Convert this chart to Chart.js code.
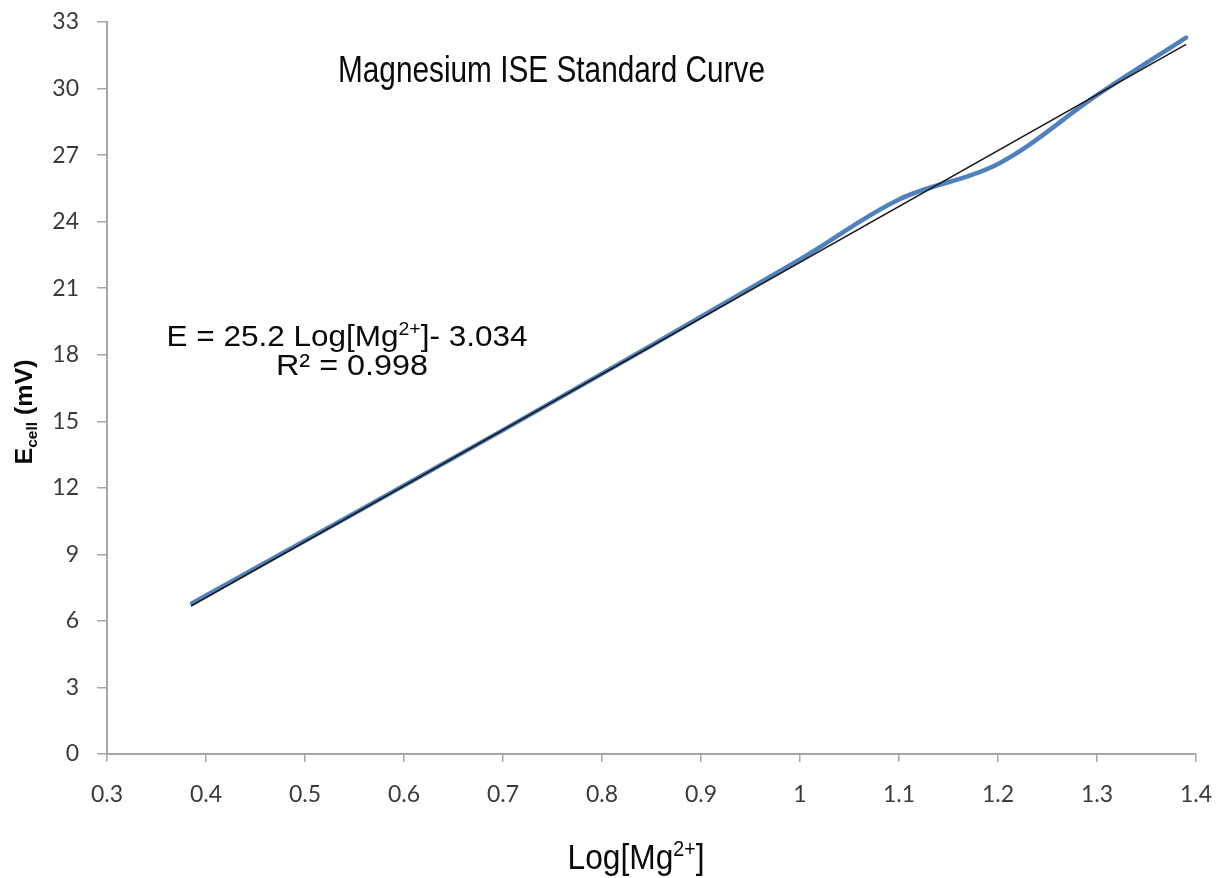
<!DOCTYPE html>
<html>
<head>
<meta charset="utf-8">
<script src="https://cdn.jsdelivr.net/npm/chart.js@4.4.0/dist/chart.umd.min.js"></script>
<style>
  html, body { margin: 0; padding: 0; background: #ffffff; }
  #wrap { width: 1231px; height: 878px; }
</style>
</head>
<body>
<div id="wrap"><canvas id="c" width="1231" height="878"></canvas></div>
<script>
// ---- data ----
const measuredLogMg = [0.386, 0.70, 1.00, 1.10, 1.20, 1.30, 1.39];
const measuredEcell = [6.80, 14.6, 22.3, 25.0, 26.6, 29.7, 32.3];
const trendLogMg = [0.385, 1.39];
const trendEcell = [6.67, 31.99];
const xTickValues = [0.3, 0.4, 0.5, 0.6, 0.7, 0.8, 0.9, 1.0, 1.1, 1.2, 1.3, 1.4];
const yTickValues = [0, 3, 6, 9, 12, 15, 18, 21, 24, 27, 30, 33];
const chartTitle = 'Magnesium ISE Standard Curve';
const equationParts = [['E = 25.2 Log[Mg', 'n'], ['2+', 'sup'], [']- 3.034', 'n']];
const r2Text = 'R\u00B2 = 0.998';
const xTitleParts = [['Log[Mg', 'n'], ['2+', 'sup'], [']', 'n']];
const yTitleParts = [['E', 'n'], ['cell', 'sub'], [' (mV)', 'n']];

// ---- text layout (canvas pixel positions) ----
const textLayout = {
  title:  { x: 338, y: 82, size: 37, width: 427, align: 'left', weight: 'normal' },
  eq:     { x: 347, y: 346, size: 30, width: 361, align: 'center', weight: 'normal' },
  r2:     { x: 352, y: 375, size: 30, width: 152, align: 'center', weight: 'normal' },
  xTitle: { x: 636, y: 869, size: 35, width: 137, align: 'center', weight: 'normal' },
  yTitle: { x: 32, y: 412, size: 24, width: 105, align: 'center', weight: 'bold' }
};
const textFamily = '"Liberation Sans", Arial, sans-serif';

function drawParts(ctx, parts, cfg) {
  const fontFor = (kind) => {
    const s = kind === 'n' ? cfg.size : cfg.size * 0.62;
    return cfg.weight + ' ' + s + 'px ' + textFamily;
  };
  let total = 0;
  const widths = parts.map(([t, k]) => { ctx.font = fontFor(k); const w = ctx.measureText(t).width; total += w; return w; });
  const sx = cfg.width ? cfg.width / total : 1;
  ctx.save();
  ctx.translate(cfg.x, cfg.y);
  if (cfg.rotate) ctx.rotate(cfg.rotate);
  ctx.scale(sx, 1);
  let x = cfg.align === 'center' ? -total / 2 : 0;
  ctx.fillStyle = '#0a0a0a';
  ctx.textBaseline = 'alphabetic';
  ctx.textAlign = 'left';
  parts.forEach(([t, k], i) => {
    ctx.font = fontFor(k);
    let dy = 0;
    if (k === 'sup') dy = -cfg.size * 0.36;
    if (k === 'sub') dy = cfg.size * 0.2;
    ctx.fillText(t, x, dy);
    x += widths[i];
  });
  ctx.restore();
}

const textPlugin = {
  id: 'texts',
  afterDraw(chart) {
    const ctx = chart.ctx;
    drawParts(ctx, [[chartTitle, 'n']], textLayout.title);
    drawParts(ctx, equationParts, textLayout.eq);
    drawParts(ctx, [[r2Text, 'n']], textLayout.r2);
    drawParts(ctx, xTitleParts, textLayout.xTitle);
    const yc = Object.assign({}, textLayout.yTitle, { rotate: -Math.PI / 2 });
    drawParts(ctx, yTitleParts, yc);
  }
};

const axisColor = '#a6a6a6';
const tickFont = { family: 'Lato, "Open Sans", sans-serif', size: 23 };

new Chart(document.getElementById('c'), {
  type: 'scatter',
  data: {
    datasets: [
      {
        label: 'Linear trend',
        data: trendLogMg.map((x, i) => ({ x: x, y: trendEcell[i] })),
        showLine: true,
        borderColor: '#1a1a1a',
        borderWidth: 1.6,
        pointRadius: 0,
        tension: 0,
        order: 0
      },
      {
        label: 'Ecell',
        data: measuredLogMg.map((x, i) => ({ x: x, y: measuredEcell[i] })),
        showLine: true,
        borderColor: '#4F81BD',
        borderWidth: 4.5,
        borderCapStyle: 'round',
        pointRadius: 0,
        tension: 0.35,
        order: 1
      }
    ]
  },
  options: {
    responsive: false,
    animation: false,
    devicePixelRatio: 1,
    layout: { padding: { left: 0, right: 35, top: 22, bottom: 0 } },
    plugins: { legend: { display: false }, tooltip: { enabled: false }, title: { display: false } },
    scales: {
      x: {
        type: 'linear',
        min: 0.3, max: 1.4,
        afterBuildTicks: (s) => { s.ticks = xTickValues.map(v => ({ value: v })); },
        afterFit: (s) => { s.height = 124; s.paddingLeft = 0; s.paddingRight = 0; },
        ticks: {
          callback: (v) => String(Number(v.toFixed(1))),
          font: tickFont, color: '#3a3a3a', padding: 19, maxRotation: 0, autoSkip: false
        },
        grid: { drawOnChartArea: false, drawTicks: true, tickLength: 8, color: axisColor, lineWidth: 1.5 },
        border: { display: true, color: axisColor, width: 2 }
      },
      y: {
        type: 'linear',
        min: 0, max: 33,
        afterBuildTicks: (s) => { s.ticks = yTickValues.map(v => ({ value: v })); },
        afterFit: (s) => { s.width = 107; s.paddingTop = 0; s.paddingBottom = 0; },
        ticks: { font: tickFont, color: '#3a3a3a', padding: 18, autoSkip: false },
        grid: { drawOnChartArea: false, drawTicks: true, tickLength: 10, color: axisColor, lineWidth: 1.5 },
        border: { display: true, color: axisColor, width: 2 }
      }
    }
  },
  plugins: [textPlugin]
});
</script>
</body>
</html>
